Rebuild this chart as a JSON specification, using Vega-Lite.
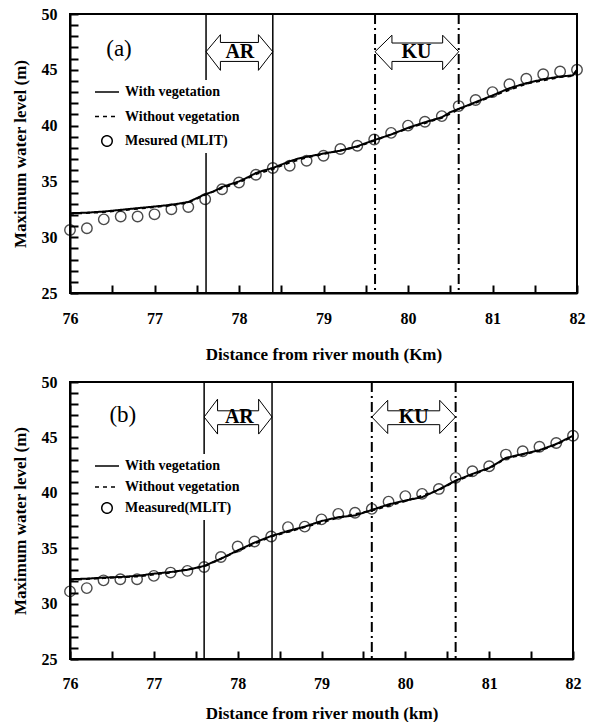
{
  "$schema": "https://vega.github.io/schema/vega-lite/v6.json",
  "background": "white",
  "padding": {"left": 10, "top": 5, "right": 10, "bottom": 0},
  "spacing": 10,
  "config": {
    "font": "Liberation Serif",
    "view": {"stroke": "black", "strokeWidth": 2},
    "axis": {
      "grid": false, "domainColor": "black", "domainWidth": 2, "zindex": 1,
      "ticks": true, "tickColor": "black", "tickWidth": 2, "tickSize": -8,
      "labelFont": "Liberation Serif", "labelFontWeight": "bold", "labelFontSize": 16, "labelColor": "black",
      "labelFlush": false, "labelOverlap": false, "labelBound": false,
      "titleFont": "Liberation Serif", "titleFontWeight": "bold", "titleFontSize": 17, "titleColor": "black"
    }
  },
  "resolve": {"scale": {"strokeDash": "independent"}, "legend": {"strokeDash": "independent"}},
  "datasets": {
    "measA": [
      {"x": 76.0, "y": 30.65}, {"x": 76.2, "y": 30.8}, {"x": 76.4, "y": 31.6}, {"x": 76.6, "y": 31.85},
      {"x": 76.8, "y": 31.85}, {"x": 77.0, "y": 32.05}, {"x": 77.2, "y": 32.5}, {"x": 77.4, "y": 32.7},
      {"x": 77.6, "y": 33.4}, {"x": 77.8, "y": 34.3}, {"x": 78.0, "y": 34.9}, {"x": 78.2, "y": 35.6},
      {"x": 78.4, "y": 36.2}, {"x": 78.6, "y": 36.4}, {"x": 78.8, "y": 36.85}, {"x": 79.0, "y": 37.3},
      {"x": 79.2, "y": 37.9}, {"x": 79.4, "y": 38.2}, {"x": 79.6, "y": 38.75}, {"x": 79.8, "y": 39.35},
      {"x": 80.0, "y": 40.0}, {"x": 80.2, "y": 40.35}, {"x": 80.4, "y": 40.85}, {"x": 80.6, "y": 41.75},
      {"x": 80.8, "y": 42.3}, {"x": 81.0, "y": 43.0}, {"x": 81.2, "y": 43.7}, {"x": 81.4, "y": 44.2},
      {"x": 81.6, "y": 44.6}, {"x": 81.8, "y": 44.85}, {"x": 82.0, "y": 45.0}
    ],
    "lineA": [
      {"s": "With vegetation", "x": 76.0, "y": 32.15}, {"s": "With vegetation", "x": 76.2, "y": 32.2},
      {"s": "With vegetation", "x": 76.4, "y": 32.3}, {"s": "With vegetation", "x": 76.6, "y": 32.45},
      {"s": "With vegetation", "x": 76.8, "y": 32.6}, {"s": "With vegetation", "x": 77.0, "y": 32.75},
      {"s": "With vegetation", "x": 77.2, "y": 32.9}, {"s": "With vegetation", "x": 77.4, "y": 33.15},
      {"s": "With vegetation", "x": 77.5, "y": 33.5}, {"s": "With vegetation", "x": 77.6, "y": 33.85},
      {"s": "With vegetation", "x": 77.7, "y": 34.1}, {"s": "With vegetation", "x": 77.8, "y": 34.5},
      {"s": "With vegetation", "x": 77.9, "y": 34.75}, {"s": "With vegetation", "x": 78.0, "y": 35.0},
      {"s": "With vegetation", "x": 78.1, "y": 35.35}, {"s": "With vegetation", "x": 78.2, "y": 35.75},
      {"s": "With vegetation", "x": 78.3, "y": 36.0}, {"s": "With vegetation", "x": 78.4, "y": 36.2},
      {"s": "With vegetation", "x": 78.5, "y": 36.5}, {"s": "With vegetation", "x": 78.6, "y": 36.8},
      {"s": "With vegetation", "x": 78.7, "y": 37.05}, {"s": "With vegetation", "x": 78.8, "y": 37.2},
      {"s": "With vegetation", "x": 78.9, "y": 37.35}, {"s": "With vegetation", "x": 79.0, "y": 37.5},
      {"s": "With vegetation", "x": 79.2, "y": 37.75}, {"s": "With vegetation", "x": 79.4, "y": 38.15},
      {"s": "With vegetation", "x": 79.6, "y": 38.7}, {"s": "With vegetation", "x": 79.8, "y": 39.2},
      {"s": "With vegetation", "x": 80.0, "y": 39.8}, {"s": "With vegetation", "x": 80.2, "y": 40.3},
      {"s": "With vegetation", "x": 80.4, "y": 40.75}, {"s": "With vegetation", "x": 80.5, "y": 41.2},
      {"s": "With vegetation", "x": 80.6, "y": 41.5}, {"s": "With vegetation", "x": 80.8, "y": 42.1},
      {"s": "With vegetation", "x": 81.0, "y": 42.7}, {"s": "With vegetation", "x": 81.2, "y": 43.35},
      {"s": "With vegetation", "x": 81.4, "y": 43.8}, {"s": "With vegetation", "x": 81.6, "y": 44.15},
      {"s": "With vegetation", "x": 81.8, "y": 44.4}, {"s": "With vegetation", "x": 81.95, "y": 44.5},
      {"s": "With vegetation", "x": 82.0, "y": 45.0},
      {"s": "Without vegetation", "x": 76.0, "y": 32.1}, {"s": "Without vegetation", "x": 76.4, "y": 32.25},
      {"s": "Without vegetation", "x": 76.8, "y": 32.55}, {"s": "Without vegetation", "x": 77.2, "y": 32.85},
      {"s": "Without vegetation", "x": 77.4, "y": 33.1}, {"s": "Without vegetation", "x": 77.6, "y": 33.8},
      {"s": "Without vegetation", "x": 77.8, "y": 34.4}, {"s": "Without vegetation", "x": 78.0, "y": 34.9},
      {"s": "Without vegetation", "x": 78.2, "y": 35.65}, {"s": "Without vegetation", "x": 78.4, "y": 36.1},
      {"s": "Without vegetation", "x": 78.6, "y": 36.7}, {"s": "Without vegetation", "x": 78.8, "y": 37.15},
      {"s": "Without vegetation", "x": 79.0, "y": 37.45}, {"s": "Without vegetation", "x": 79.4, "y": 38.1},
      {"s": "Without vegetation", "x": 79.6, "y": 38.65}, {"s": "Without vegetation", "x": 80.0, "y": 39.75},
      {"s": "Without vegetation", "x": 80.4, "y": 40.7}, {"s": "Without vegetation", "x": 80.6, "y": 41.45},
      {"s": "Without vegetation", "x": 81.0, "y": 42.65}, {"s": "Without vegetation", "x": 81.4, "y": 43.75},
      {"s": "Without vegetation", "x": 81.8, "y": 44.35}, {"s": "Without vegetation", "x": 81.95, "y": 44.45},
      {"s": "Without vegetation", "x": 82.0, "y": 44.95}
    ],
    "measB": [
      {"x": 76.0, "y": 31.1}, {"x": 76.2, "y": 31.4}, {"x": 76.4, "y": 32.1}, {"x": 76.6, "y": 32.2},
      {"x": 76.8, "y": 32.2}, {"x": 77.0, "y": 32.5}, {"x": 77.2, "y": 32.8}, {"x": 77.4, "y": 32.95},
      {"x": 77.6, "y": 33.3}, {"x": 77.8, "y": 34.2}, {"x": 78.0, "y": 35.15}, {"x": 78.2, "y": 35.6},
      {"x": 78.4, "y": 36.05}, {"x": 78.6, "y": 36.9}, {"x": 78.8, "y": 36.95}, {"x": 79.0, "y": 37.6},
      {"x": 79.2, "y": 38.1}, {"x": 79.4, "y": 38.2}, {"x": 79.6, "y": 38.55}, {"x": 79.8, "y": 39.2},
      {"x": 80.0, "y": 39.7}, {"x": 80.2, "y": 39.9}, {"x": 80.4, "y": 40.35}, {"x": 80.6, "y": 41.35},
      {"x": 80.8, "y": 41.95}, {"x": 81.0, "y": 42.4}, {"x": 81.2, "y": 43.45}, {"x": 81.4, "y": 43.75},
      {"x": 81.6, "y": 44.15}, {"x": 81.8, "y": 44.5}, {"x": 82.0, "y": 45.15}
    ],
    "lineB": [
      {"s": "With vegetation", "x": 76.0, "y": 32.2}, {"s": "With vegetation", "x": 76.2, "y": 32.25},
      {"s": "With vegetation", "x": 76.4, "y": 32.35}, {"s": "With vegetation", "x": 76.6, "y": 32.4},
      {"s": "With vegetation", "x": 76.8, "y": 32.5}, {"s": "With vegetation", "x": 77.0, "y": 32.7},
      {"s": "With vegetation", "x": 77.2, "y": 32.85}, {"s": "With vegetation", "x": 77.4, "y": 33.05},
      {"s": "With vegetation", "x": 77.6, "y": 33.4}, {"s": "With vegetation", "x": 77.8, "y": 34.05},
      {"s": "With vegetation", "x": 78.0, "y": 34.8}, {"s": "With vegetation", "x": 78.2, "y": 35.5},
      {"s": "With vegetation", "x": 78.4, "y": 36.1}, {"s": "With vegetation", "x": 78.6, "y": 36.55},
      {"s": "With vegetation", "x": 78.8, "y": 36.95}, {"s": "With vegetation", "x": 79.0, "y": 37.45},
      {"s": "With vegetation", "x": 79.2, "y": 37.8}, {"s": "With vegetation", "x": 79.4, "y": 37.95},
      {"s": "With vegetation", "x": 79.6, "y": 38.45}, {"s": "With vegetation", "x": 79.8, "y": 38.95},
      {"s": "With vegetation", "x": 80.0, "y": 39.3}, {"s": "With vegetation", "x": 80.2, "y": 39.6},
      {"s": "With vegetation", "x": 80.4, "y": 40.3}, {"s": "With vegetation", "x": 80.6, "y": 41.1},
      {"s": "With vegetation", "x": 80.8, "y": 41.7}, {"s": "With vegetation", "x": 81.0, "y": 42.25},
      {"s": "With vegetation", "x": 81.2, "y": 43.15}, {"s": "With vegetation", "x": 81.4, "y": 43.5},
      {"s": "With vegetation", "x": 81.6, "y": 43.85}, {"s": "With vegetation", "x": 81.8, "y": 44.4},
      {"s": "With vegetation", "x": 82.0, "y": 45.15},
      {"s": "Without vegetation", "x": 76.0, "y": 32.15}, {"s": "Without vegetation", "x": 76.4, "y": 32.3},
      {"s": "Without vegetation", "x": 76.8, "y": 32.45}, {"s": "Without vegetation", "x": 77.2, "y": 32.8},
      {"s": "Without vegetation", "x": 77.6, "y": 33.35}, {"s": "Without vegetation", "x": 78.0, "y": 34.75},
      {"s": "Without vegetation", "x": 78.4, "y": 36.05}, {"s": "Without vegetation", "x": 78.8, "y": 36.9},
      {"s": "Without vegetation", "x": 79.2, "y": 37.75}, {"s": "Without vegetation", "x": 79.6, "y": 38.4},
      {"s": "Without vegetation", "x": 80.0, "y": 39.25}, {"s": "Without vegetation", "x": 80.4, "y": 40.25},
      {"s": "Without vegetation", "x": 80.6, "y": 41.05}, {"s": "Without vegetation", "x": 81.0, "y": 42.2},
      {"s": "Without vegetation", "x": 81.2, "y": 43.1}, {"s": "Without vegetation", "x": 81.6, "y": 43.8},
      {"s": "Without vegetation", "x": 81.8, "y": 44.35}, {"s": "Without vegetation", "x": 82.0, "y": 45.1}
    ],
    "vA": [{"x": 77.61, "k": "AR"}, {"x": 78.4, "k": "AR"}, {"x": 79.61, "k": "KU"}, {"x": 80.6, "k": "KU"}],
    "vB": [{"x": 77.6, "k": "AR"}, {"x": 78.41, "k": "AR"}, {"x": 79.6, "k": "KU"}, {"x": 80.6, "k": "KU"}],
    "arrA": [
      {"a": "AR", "i": 0, "x": 77.61, "y": 46.62}, {"a": "AR", "i": 1, "x": 77.78, "y": 48.15},
      {"a": "AR", "i": 2, "x": 77.78, "y": 47.45}, {"a": "AR", "i": 3, "x": 78.23, "y": 47.45},
      {"a": "AR", "i": 4, "x": 78.23, "y": 48.15}, {"a": "AR", "i": 5, "x": 78.4, "y": 46.62},
      {"a": "AR", "i": 6, "x": 78.23, "y": 44.95}, {"a": "AR", "i": 7, "x": 78.23, "y": 45.75},
      {"a": "AR", "i": 8, "x": 77.78, "y": 45.75}, {"a": "AR", "i": 9, "x": 77.78, "y": 44.95},
      {"a": "AR", "i": 10, "x": 77.61, "y": 46.62},
      {"a": "KU", "i": 0, "x": 79.61, "y": 46.62}, {"a": "KU", "i": 1, "x": 79.81, "y": 48.1},
      {"a": "KU", "i": 2, "x": 79.81, "y": 47.4}, {"a": "KU", "i": 3, "x": 80.41, "y": 47.4},
      {"a": "KU", "i": 4, "x": 80.41, "y": 48.1}, {"a": "KU", "i": 5, "x": 80.6, "y": 46.62},
      {"a": "KU", "i": 6, "x": 80.41, "y": 45.0}, {"a": "KU", "i": 7, "x": 80.41, "y": 45.75},
      {"a": "KU", "i": 8, "x": 79.81, "y": 45.75}, {"a": "KU", "i": 9, "x": 79.81, "y": 45.0},
      {"a": "KU", "i": 10, "x": 79.61, "y": 46.62}
    ],
    "arrB": [
      {"a": "AR", "i": 0, "x": 77.6, "y": 46.84}, {"a": "AR", "i": 1, "x": 77.76, "y": 48.45},
      {"a": "AR", "i": 2, "x": 77.76, "y": 47.4}, {"a": "AR", "i": 3, "x": 78.25, "y": 47.4},
      {"a": "AR", "i": 4, "x": 78.25, "y": 48.45}, {"a": "AR", "i": 5, "x": 78.41, "y": 46.84},
      {"a": "AR", "i": 6, "x": 78.25, "y": 45.3}, {"a": "AR", "i": 7, "x": 78.25, "y": 46.15},
      {"a": "AR", "i": 8, "x": 77.76, "y": 46.15}, {"a": "AR", "i": 9, "x": 77.76, "y": 45.3},
      {"a": "AR", "i": 10, "x": 77.6, "y": 46.84},
      {"a": "KU", "i": 0, "x": 79.6, "y": 46.84}, {"a": "KU", "i": 1, "x": 79.79, "y": 48.35},
      {"a": "KU", "i": 2, "x": 79.79, "y": 47.4}, {"a": "KU", "i": 3, "x": 80.41, "y": 47.4},
      {"a": "KU", "i": 4, "x": 80.41, "y": 48.35}, {"a": "KU", "i": 5, "x": 80.6, "y": 46.84},
      {"a": "KU", "i": 6, "x": 80.41, "y": 45.35}, {"a": "KU", "i": 7, "x": 80.41, "y": 46.15},
      {"a": "KU", "i": 8, "x": 79.79, "y": 46.15}, {"a": "KU", "i": 9, "x": 79.79, "y": 45.35},
      {"a": "KU", "i": 10, "x": 79.6, "y": 46.84}
    ],
    "txtA": [{"t": "AR", "x": 78.01, "y": 46.6}, {"t": "KU", "x": 80.1, "y": 46.6}],
    "txtB": [{"t": "AR", "x": 78.02, "y": 46.8}, {"t": "KU", "x": 80.1, "y": 46.8}],
    "labA": [{"t": "(a)", "x": 76.58, "y": 46.85}],
    "labB": [{"t": "(b)", "x": 76.63, "y": 47.0}]
  },
  "vconcat": [
    {
      "width": 507, "height": 279,
      "layer": [
        {
          "data": {"name": "vA"}, "transform": [{"filter": "datum.k === 'AR'"}],
          "mark": {"type": "rule", "color": "black", "strokeWidth": 1.5},
          "encoding": {
            "x": {"field": "x", "type": "quantitative", "scale": {"domain": [76, 82], "nice": false, "zero": false}, "axis": {"title": "Distance from river mouth (Km)", "values": [76, 76.5, 77, 77.5, 78, 78.5, 79, 79.5, 80, 80.5, 81, 81.5, 82], "labelExpr": "datum.value % 1 === 0 ? format(datum.value, 'd') : ''", "labelPadding": 25, "titlePadding": 20}}
          }
        },
        {
          "data": {"name": "vA"}, "transform": [{"filter": "datum.k === 'KU'"}],
          "mark": {"type": "rule", "color": "black", "strokeWidth": 2, "strokeDash": [10, 4, 2, 4]},
          "encoding": {
            "x": {"field": "x", "type": "quantitative", "scale": {"domain": [76, 82], "nice": false, "zero": false}, "axis": {"title": "Distance from river mouth (Km)", "values": [76, 76.5, 77, 77.5, 78, 78.5, 79, 79.5, 80, 80.5, 81, 81.5, 82], "labelExpr": "datum.value % 1 === 0 ? format(datum.value, 'd') : ''", "labelPadding": 25, "titlePadding": 20}}
          }
        },
        {
          "data": {"name": "arrA"},
          "mark": {"type": "line", "color": "black", "strokeWidth": 1},
          "encoding": {
            "x": {"field": "x", "type": "quantitative", "scale": {"domain": [76, 82], "nice": false, "zero": false}, "axis": {"title": "Distance from river mouth (Km)", "values": [76, 76.5, 77, 77.5, 78, 78.5, 79, 79.5, 80, 80.5, 81, 81.5, 82], "labelExpr": "datum.value % 1 === 0 ? format(datum.value, 'd') : ''", "labelPadding": 25, "titlePadding": 20}},
            "y": {"field": "y", "type": "quantitative", "scale": {"domain": [25, 50], "nice": false, "zero": false}, "axis": {"title": "Maximum water level (m)", "values": [25, 26, 27, 28, 29, 30, 31, 32, 33, 34, 35, 36, 37, 38, 39, 40, 41, 42, 43, 44, 45, 46, 47, 48, 49, 50], "labelExpr": "datum.value % 5 === 0 ? format(datum.value, 'd') : ''", "labelPadding": 21, "titlePadding": 12}},
            "detail": {"field": "a"},
            "order": {"field": "i", "type": "quantitative"}
          }
        },
        {
          "data": {"name": "txtA"},
          "mark": {"type": "text", "font": "Liberation Serif", "fontWeight": "bold", "fontSize": 20, "color": "black", "baseline": "middle", "align": "center"},
          "encoding": {
            "x": {"field": "x", "type": "quantitative", "scale": {"domain": [76, 82], "nice": false, "zero": false}, "axis": {"title": "Distance from river mouth (Km)", "values": [76, 76.5, 77, 77.5, 78, 78.5, 79, 79.5, 80, 80.5, 81, 81.5, 82], "labelExpr": "datum.value % 1 === 0 ? format(datum.value, 'd') : ''", "labelPadding": 25, "titlePadding": 20}},
            "y": {"field": "y", "type": "quantitative", "scale": {"domain": [25, 50], "nice": false, "zero": false}, "axis": {"title": "Maximum water level (m)", "values": [25, 26, 27, 28, 29, 30, 31, 32, 33, 34, 35, 36, 37, 38, 39, 40, 41, 42, 43, 44, 45, 46, 47, 48, 49, 50], "labelExpr": "datum.value % 5 === 0 ? format(datum.value, 'd') : ''", "labelPadding": 21, "titlePadding": 12}},
            "text": {"field": "t"}
          }
        },
        {
          "data": {"name": "labA"},
          "mark": {"type": "text", "font": "Liberation Serif", "fontSize": 23, "color": "black", "baseline": "middle", "align": "center"},
          "encoding": {
            "x": {"field": "x", "type": "quantitative", "scale": {"domain": [76, 82], "nice": false, "zero": false}, "axis": {"title": "Distance from river mouth (Km)", "values": [76, 76.5, 77, 77.5, 78, 78.5, 79, 79.5, 80, 80.5, 81, 81.5, 82], "labelExpr": "datum.value % 1 === 0 ? format(datum.value, 'd') : ''", "labelPadding": 25, "titlePadding": 20}},
            "y": {"field": "y", "type": "quantitative", "scale": {"domain": [25, 50], "nice": false, "zero": false}, "axis": {"title": "Maximum water level (m)", "values": [25, 26, 27, 28, 29, 30, 31, 32, 33, 34, 35, 36, 37, 38, 39, 40, 41, 42, 43, 44, 45, 46, 47, 48, 49, 50], "labelExpr": "datum.value % 5 === 0 ? format(datum.value, 'd') : ''", "labelPadding": 21, "titlePadding": 12}},
            "text": {"field": "t"}
          }
        },
        {
          "data": {"name": "lineA"},
          "mark": {"type": "line", "color": "black", "strokeWidth": 2},
          "encoding": {
            "x": {"field": "x", "type": "quantitative", "scale": {"domain": [76, 82], "nice": false, "zero": false}, "axis": {"title": "Distance from river mouth (Km)", "values": [76, 76.5, 77, 77.5, 78, 78.5, 79, 79.5, 80, 80.5, 81, 81.5, 82], "labelExpr": "datum.value % 1 === 0 ? format(datum.value, 'd') : ''", "labelPadding": 25, "titlePadding": 20}},
            "y": {"field": "y", "type": "quantitative", "scale": {"domain": [25, 50], "nice": false, "zero": false}, "axis": {"title": "Maximum water level (m)", "values": [25, 26, 27, 28, 29, 30, 31, 32, 33, 34, 35, 36, 37, 38, 39, 40, 41, 42, 43, 44, 45, 46, 47, 48, 49, 50], "labelExpr": "datum.value % 5 === 0 ? format(datum.value, 'd') : ''", "labelPadding": 21, "titlePadding": 12}},
            "strokeDash": {
              "field": "s", "type": "nominal",
              "scale": {"domain": ["With vegetation", "Without vegetation", "Mesured (MLIT)"], "range": [[1, 0], [4, 4], [1, 0]]},
              "legend": {
                "orient": "none", "legendX": 19, "legendY": 66, "title": null,
                "fillColor": "white", "padding": 5, "rowPadding": 10.5, "clipHeight": 14,
                "labelFont": "Liberation Serif", "labelFontWeight": "bold", "labelFontSize": 14, "labelColor": "black", "labelOffset": 5,
                "symbolSize": 576, "symbolType": "stroke", "symbolStrokeColor": "black", "symbolStrokeWidth": 1.5,
                "encode": {"symbols": {"update": {
                  "shape": {"signal": "datum.value === 'Mesured (MLIT)' ? 'circle' : 'stroke'"},
                  "size": {"signal": "datum.value === 'Mesured (MLIT)' ? 110 : 576"},
                  "fill": {"value": "transparent"},
                  "stroke": {"value": "black"}
                }}}
              }
            }
          }
        },
        {
          "data": {"name": "measA"},
          "mark": {"type": "point", "shape": "circle", "filled": false, "size": 110, "color": "black", "strokeWidth": 1.4},
          "encoding": {
            "x": {"field": "x", "type": "quantitative", "scale": {"domain": [76, 82], "nice": false, "zero": false}, "axis": {"title": "Distance from river mouth (Km)", "values": [76, 76.5, 77, 77.5, 78, 78.5, 79, 79.5, 80, 80.5, 81, 81.5, 82], "labelExpr": "datum.value % 1 === 0 ? format(datum.value, 'd') : ''", "labelPadding": 25, "titlePadding": 20}},
            "y": {"field": "y", "type": "quantitative", "scale": {"domain": [25, 50], "nice": false, "zero": false}, "axis": {"title": "Maximum water level (m)", "values": [25, 26, 27, 28, 29, 30, 31, 32, 33, 34, 35, 36, 37, 38, 39, 40, 41, 42, 43, 44, 45, 46, 47, 48, 49, 50], "labelExpr": "datum.value % 5 === 0 ? format(datum.value, 'd') : ''", "labelPadding": 21, "titlePadding": 12}}
          }
        }
      ]
    },
    {
      "width": 503, "height": 277,
      "layer": [
        {
          "data": {"name": "vB"}, "transform": [{"filter": "datum.k === 'AR'"}],
          "mark": {"type": "rule", "color": "black", "strokeWidth": 1.5},
          "encoding": {
            "x": {"field": "x", "type": "quantitative", "scale": {"domain": [76, 82], "nice": false, "zero": false}, "axis": {"title": "Distance from river mouth (km)", "values": [76, 76.5, 77, 77.5, 78, 78.5, 79, 79.5, 80, 80.5, 81, 81.5, 82], "labelExpr": "datum.value % 1 === 0 ? format(datum.value, 'd') : ''", "labelPadding": 24, "titlePadding": 14}}
          }
        },
        {
          "data": {"name": "vB"}, "transform": [{"filter": "datum.k === 'KU'"}],
          "mark": {"type": "rule", "color": "black", "strokeWidth": 2, "strokeDash": [10, 4, 2, 4]},
          "encoding": {
            "x": {"field": "x", "type": "quantitative", "scale": {"domain": [76, 82], "nice": false, "zero": false}, "axis": {"title": "Distance from river mouth (km)", "values": [76, 76.5, 77, 77.5, 78, 78.5, 79, 79.5, 80, 80.5, 81, 81.5, 82], "labelExpr": "datum.value % 1 === 0 ? format(datum.value, 'd') : ''", "labelPadding": 24, "titlePadding": 14}}
          }
        },
        {
          "data": {"name": "arrB"},
          "mark": {"type": "line", "color": "black", "strokeWidth": 1},
          "encoding": {
            "x": {"field": "x", "type": "quantitative", "scale": {"domain": [76, 82], "nice": false, "zero": false}, "axis": {"title": "Distance from river mouth (km)", "values": [76, 76.5, 77, 77.5, 78, 78.5, 79, 79.5, 80, 80.5, 81, 81.5, 82], "labelExpr": "datum.value % 1 === 0 ? format(datum.value, 'd') : ''", "labelPadding": 24, "titlePadding": 14}},
            "y": {"field": "y", "type": "quantitative", "scale": {"domain": [25, 50], "nice": false, "zero": false}, "axis": {"title": "Maximum water level (m)", "values": [25, 26, 27, 28, 29, 30, 31, 32, 33, 34, 35, 36, 37, 38, 39, 40, 41, 42, 43, 44, 45, 46, 47, 48, 49, 50], "labelExpr": "datum.value % 5 === 0 ? format(datum.value, 'd') : ''", "labelPadding": 21, "titlePadding": 12}},
            "detail": {"field": "a"},
            "order": {"field": "i", "type": "quantitative"}
          }
        },
        {
          "data": {"name": "txtB"},
          "mark": {"type": "text", "font": "Liberation Serif", "fontWeight": "bold", "fontSize": 20, "color": "black", "baseline": "middle", "align": "center"},
          "encoding": {
            "x": {"field": "x", "type": "quantitative", "scale": {"domain": [76, 82], "nice": false, "zero": false}, "axis": {"title": "Distance from river mouth (km)", "values": [76, 76.5, 77, 77.5, 78, 78.5, 79, 79.5, 80, 80.5, 81, 81.5, 82], "labelExpr": "datum.value % 1 === 0 ? format(datum.value, 'd') : ''", "labelPadding": 24, "titlePadding": 14}},
            "y": {"field": "y", "type": "quantitative", "scale": {"domain": [25, 50], "nice": false, "zero": false}, "axis": {"title": "Maximum water level (m)", "values": [25, 26, 27, 28, 29, 30, 31, 32, 33, 34, 35, 36, 37, 38, 39, 40, 41, 42, 43, 44, 45, 46, 47, 48, 49, 50], "labelExpr": "datum.value % 5 === 0 ? format(datum.value, 'd') : ''", "labelPadding": 21, "titlePadding": 12}},
            "text": {"field": "t"}
          }
        },
        {
          "data": {"name": "labB"},
          "mark": {"type": "text", "font": "Liberation Serif", "fontSize": 23, "color": "black", "baseline": "middle", "align": "center"},
          "encoding": {
            "x": {"field": "x", "type": "quantitative", "scale": {"domain": [76, 82], "nice": false, "zero": false}, "axis": {"title": "Distance from river mouth (km)", "values": [76, 76.5, 77, 77.5, 78, 78.5, 79, 79.5, 80, 80.5, 81, 81.5, 82], "labelExpr": "datum.value % 1 === 0 ? format(datum.value, 'd') : ''", "labelPadding": 24, "titlePadding": 14}},
            "y": {"field": "y", "type": "quantitative", "scale": {"domain": [25, 50], "nice": false, "zero": false}, "axis": {"title": "Maximum water level (m)", "values": [25, 26, 27, 28, 29, 30, 31, 32, 33, 34, 35, 36, 37, 38, 39, 40, 41, 42, 43, 44, 45, 46, 47, 48, 49, 50], "labelExpr": "datum.value % 5 === 0 ? format(datum.value, 'd') : ''", "labelPadding": 21, "titlePadding": 12}},
            "text": {"field": "t"}
          }
        },
        {
          "data": {"name": "lineB"},
          "mark": {"type": "line", "color": "black", "strokeWidth": 2},
          "encoding": {
            "x": {"field": "x", "type": "quantitative", "scale": {"domain": [76, 82], "nice": false, "zero": false}, "axis": {"title": "Distance from river mouth (km)", "values": [76, 76.5, 77, 77.5, 78, 78.5, 79, 79.5, 80, 80.5, 81, 81.5, 82], "labelExpr": "datum.value % 1 === 0 ? format(datum.value, 'd') : ''", "labelPadding": 24, "titlePadding": 14}},
            "y": {"field": "y", "type": "quantitative", "scale": {"domain": [25, 50], "nice": false, "zero": false}, "axis": {"title": "Maximum water level (m)", "values": [25, 26, 27, 28, 29, 30, 31, 32, 33, 34, 35, 36, 37, 38, 39, 40, 41, 42, 43, 44, 45, 46, 47, 48, 49, 50], "labelExpr": "datum.value % 5 === 0 ? format(datum.value, 'd') : ''", "labelPadding": 21, "titlePadding": 12}},
            "strokeDash": {
              "field": "s", "type": "nominal",
              "scale": {"domain": ["With vegetation", "Without vegetation", "Measured(MLIT)"], "range": [[1, 0], [4, 4], [1, 0]]},
              "legend": {
                "orient": "none", "legendX": 19, "legendY": 72, "title": null,
                "fillColor": "white", "padding": 5, "rowPadding": 7, "clipHeight": 14,
                "labelFont": "Liberation Serif", "labelFontWeight": "bold", "labelFontSize": 14, "labelColor": "black", "labelOffset": 5,
                "symbolSize": 576, "symbolType": "stroke", "symbolStrokeColor": "black", "symbolStrokeWidth": 1.5,
                "encode": {"symbols": {"update": {
                  "shape": {"signal": "datum.value === 'Measured(MLIT)' ? 'circle' : 'stroke'"},
                  "size": {"signal": "datum.value === 'Measured(MLIT)' ? 110 : 576"},
                  "fill": {"value": "transparent"},
                  "stroke": {"value": "black"}
                }}}
              }
            }
          }
        },
        {
          "data": {"name": "measB"},
          "mark": {"type": "point", "shape": "circle", "filled": false, "size": 110, "color": "black", "strokeWidth": 1.4},
          "encoding": {
            "x": {"field": "x", "type": "quantitative", "scale": {"domain": [76, 82], "nice": false, "zero": false}, "axis": {"title": "Distance from river mouth (km)", "values": [76, 76.5, 77, 77.5, 78, 78.5, 79, 79.5, 80, 80.5, 81, 81.5, 82], "labelExpr": "datum.value % 1 === 0 ? format(datum.value, 'd') : ''", "labelPadding": 24, "titlePadding": 14}},
            "y": {"field": "y", "type": "quantitative", "scale": {"domain": [25, 50], "nice": false, "zero": false}, "axis": {"title": "Maximum water level (m)", "values": [25, 26, 27, 28, 29, 30, 31, 32, 33, 34, 35, 36, 37, 38, 39, 40, 41, 42, 43, 44, 45, 46, 47, 48, 49, 50], "labelExpr": "datum.value % 5 === 0 ? format(datum.value, 'd') : ''", "labelPadding": 21, "titlePadding": 12}}
          }
        }
      ]
    }
  ]
}
